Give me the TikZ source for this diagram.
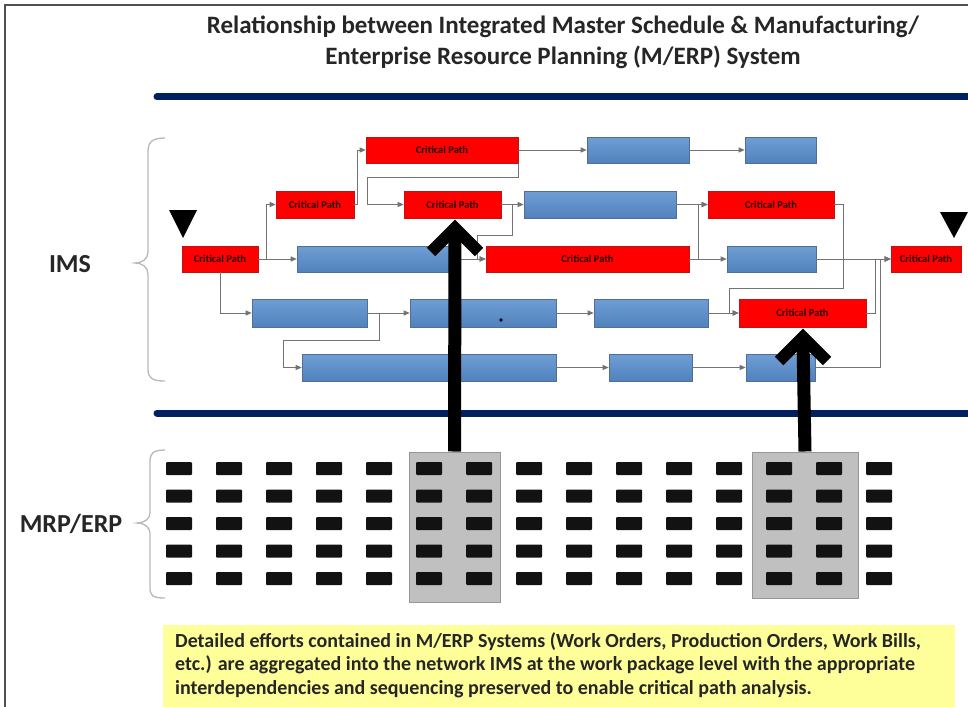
\documentclass[tikz,border=0pt]{standalone}
\usepackage{fontspec}
\setmainfont{Carlito}
\usetikzlibrary{arrows.meta}
\definecolor{navy}{RGB}{0,32,96}
\definecolor{cpred}{RGB}{255,0,0}
\definecolor{cpborder}{RGB}{190,20,20}
\definecolor{tbtop}{RGB}{110,158,212}
\definecolor{tbbot}{RGB}{82,130,188}
\definecolor{tblueb}{RGB}{80,110,150}
\definecolor{connc}{RGB}{115,115,115}
\definecolor{bracec}{RGB}{185,185,185}
\definecolor{graybox}{RGB}{192,192,192}
\definecolor{grayboxb}{RGB}{150,150,150}
\definecolor{note}{RGB}{255,255,153}
\definecolor{framec}{RGB}{80,80,80}
\tikzset{
  cpbox/.style={draw=cpborder, fill=cpred, line width=0.6pt, inner sep=0pt,
    font=\fontsize{10.5}{12}\selectfont\bfseries, text=black!85!red},
  tbox/.style={draw=tblueb, top color=tbtop, bottom color=tbbot, line width=0.6pt, inner sep=0pt},
  conn/.style={draw=connc, line width=1pt, -{Triangle[length=6pt,width=5pt]}},
  bigarrow/.style={draw=black, line width=13pt},
  chevron/.style={draw=black, line width=12pt, line join=miter},
  bracepath/.style={draw=bracec, line width=1.3pt},
  sidelabel/.style={font=\fontsize{26}{30}\selectfont\bfseries, text=black!85},
  tri/.style={fill=black},
  minibar/.style={fill=black!93, rounded corners=1pt},
  grayblock/.style={fill=graybox, draw=grayboxb, line width=1pt},
}
\newcommand\bx[7]{\node[#6, minimum width={(#4-#2)*1pt}, minimum height={(#5-#3)*1pt}] (#1) at ({(#2+#4)/2},{(#3+#5)/2}) {#7};}
\begin{document}
\begin{tikzpicture}[x=1pt,y=-1pt]
\useasboundingbox (0,0) rectangle (968,706);
\fill[white] (0,0) rectangle (968,706);
% frame
\draw[framec, line width=1.5pt] (5,720) -- (5,5) -- (975,5);
% title
\node[font=\fontsize{25}{31}\selectfont\bfseries, align=center, text=black!85] (title) at (563,42)
 {Relationship between Integrated Master Schedule \& Manufacturing/\\Enterprise Resource Planning (M/ERP) System};
% blue rules
\draw[navy, line width=7pt, line cap=round] (157,97) -- (990,97);
\draw[navy, line width=7pt, line cap=round] (157,413) -- (990,413);
% side labels and braces
\node[sidelabel] (ims) at (70,264) {IMS};
\node[sidelabel] (mrp) at (71,524) {MRP/ERP};
\draw[bracepath] (165,138) .. controls (152,138) and (148,142) .. (148,152) -- (148,252)
  .. controls (148,259) and (142,263) .. (135,263) .. controls (142,263) and (148,267) .. (148,274)
  -- (148,369) .. controls (148,378) and (152,381) .. (165,381);
\draw[bracepath] (165,450) .. controls (152,450) and (150,454) .. (150,462) -- (150,513)
  .. controls (150,519) and (144,523) .. (137,523) .. controls (144,523) and (150,527) .. (150,533)
  -- (150,588) .. controls (150,595) and (152,598) .. (165,598);
% milestones
\fill[tri] (169,210) -- (197,210) -- (183,238) -- cycle;
\fill[tri] (940,212) -- (968,212) -- (954,238) -- cycle;
% IMS boxes
\bx{cp1}{366}{137}{518}{163}{cpbox}{Critical Path}
\bx{b1a}{587}{137}{689}{163}{tbox}{}
\bx{b1b}{745}{137}{816}{163}{tbox}{}
\bx{cp2}{276}{191}{354}{218}{cpbox}{Critical Path}
\bx{cp3}{404}{191}{501}{218}{cpbox}{Critical Path}
\bx{b2}{524}{191}{676}{218}{tbox}{}
\bx{r2}{708}{191}{834}{218}{cpbox}{Critical Path}
\bx{cp0}{182}{246}{258}{272}{cpbox}{Critical Path}
\bx{b3}{297}{246}{452}{272}{tbox}{}
\bx{r3}{486}{246}{689}{272}{cpbox}{Critical Path}
\bx{b3r}{727}{246}{816}{272}{tbox}{}
\bx{fin}{891}{246}{961}{272}{cpbox}{Critical Path}
\bx{b4a}{252}{299}{367}{327}{tbox}{}
\bx{b4b}{410}{299}{556}{327}{tbox}{}
\bx{b4c}{594}{299}{708}{327}{tbox}{}
\bx{r4}{739}{299}{866}{327}{cpbox}{Critical Path}
\bx{b5a}{302}{354}{556}{381}{tbox}{}
\bx{b5b}{609}{354}{692}{381}{tbox}{}
\bx{b5c}{746}{354}{815}{381}{tbox}{}
\fill[black] (501,320) circle (1.8);
% connectors
\draw[conn] (cp0.east) -- ++(8,0) |- (cp2.west);
\draw[conn] (cp0.east) -- (b3.west);
\draw[conn] (cp0.south) |- (b4a.west);
\draw[conn] (cp2.east) -- ++(3,0) |- (cp1.west);
\draw[conn] (cp1.east) -- (b1a.west);
\draw[conn] (b1a.east) -- (b1b.west);
\draw[conn] (cp1.south east) -- ++(0,14) -- ++(-151,0) |- (cp3.west);
\draw[conn] (cp3.east) -- (b2.west);
\draw[conn] (cp3.east) -- ++(11,0) -- ++(0,31) -- ++(-35,0) |- (r3.west);
\draw[conn] (b3.east) -- (r3.west);
\draw[conn] (b2.east) -- (r2.west);
\draw[conn] (r3.east) -- ++(9,0) |- (r2.west);
\draw[conn] (r3.east) -- (b3r.west);
\draw[conn] (b3r.east) -- (fin.west);
\draw[conn] (r2.east) -- ++(9,0) -- ++(0,84) -- ++(-114,0) |- (r4.west);
\draw[conn] (r4.east) -- ++(9,0) |- (fin.west);
\draw[conn] (b5c.east) -- ++(65,0) |- (fin.west);
\draw[conn] (b4a.east) -- (b4b.west);
\draw[conn] (b4a.east) -- ++(12,0) -- ++(0,27) -- ++(-96,0) |- (b5a.west);
\draw[conn] (b4b.east) -- (b4c.west);
\draw[conn] (b4c.east) -- (r4.west);
\draw[conn] (b5a.east) -- (b5b.west);
\draw[conn] (b5b.east) -- (b5c.west);
% MRP/ERP blocks
\node[grayblock, minimum width=91pt, minimum height=150pt, inner sep=0pt] (g1) at (454.5,527) {};
\node[grayblock, minimum width=106pt, minimum height=146pt, inner sep=0pt] (g2) at (805,525) {};
\foreach \c in {0,...,14}{
  \foreach \r/\y in {0/462,1/489.5,2/517,3/544.5,4/572}{
    \fill[minibar] ({166+50*\c},\y) rectangle ++(26,13);
  }
}
% big arrows
\draw[bigarrow] (g1.north) -- (455,232);
\draw[chevron] (431,252) -- (455,228) -- (479,252);
\draw[bigarrow] (g2.north) -- (803,341);
\draw[chevron] (779,361) -- (803,337) -- (827,361);
% note
\fill[note] (163,625) rectangle (955,712);
\node[anchor=north west, inner sep=0pt, align=left, font=\fontsize{20}{23.5}\selectfont\bfseries, text=black!85] (notetext) at (175,632)
 {Detailed efforts contained in M/ERP Systems (Work Orders, Production Orders, Work Bills,\\
  etc.) are aggregated into the network IMS at the work package level with the appropriate\\
  interdependencies and sequencing preserved to enable critical path analysis.};
\end{tikzpicture}
\end{document}
